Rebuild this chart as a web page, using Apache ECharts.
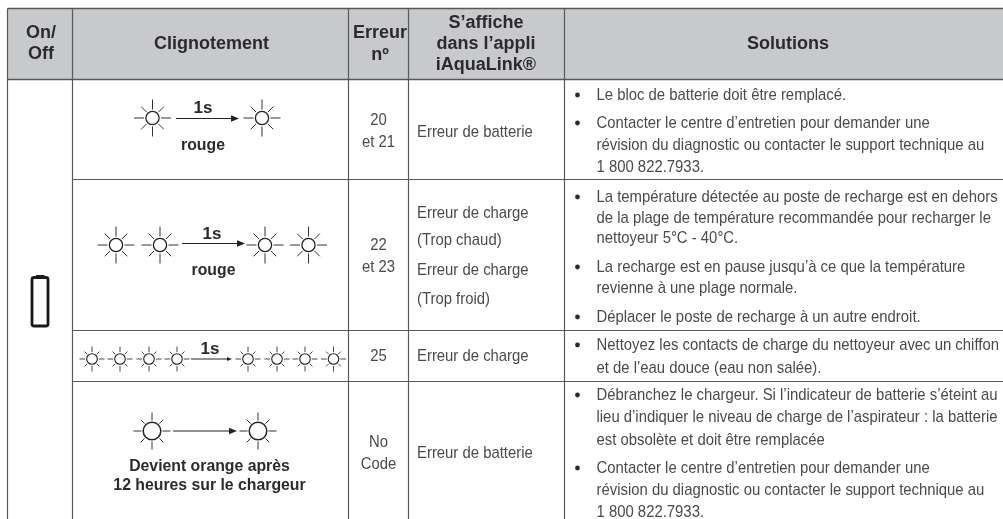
<!DOCTYPE html>
<html><head><meta charset="utf-8">
<style>html,body{margin:0;padding:0;background:#fff}#c{width:1003px;height:519px}</style>
<script src="https://cdn.jsdelivr.net/npm/echarts@6/dist/echarts.min.js"></script>
</head><body><div id="c"></div>
<script>
// ---- content ----
const headerOnOff = ["On/", "Off"];
const headerBlink = ["Clignotement"];
const headerCode = ["Erreur", "nº"];
const headerApp = ["S’affiche", "dans l’appli", "iAquaLink®"];
const headerSolutions = ["Solutions"];
const oneSecond = "1s";
const blinkCaptions = [["rouge"], ["rouge"], [], ["Devient orange après", "12 heures sur le chargeur"]];
const errorCodes = [["20", "et 21"], ["22", "et 23"], ["25"], ["No", "Code"]];
const appMessages = [
  ["Erreur de batterie"],
  ["Erreur de charge", "(Trop chaud)", "Erreur de charge", "(Trop froid)"],
  ["Erreur de charge"],
  ["Erreur de batterie"]
];
const solutions = [
  [["Le bloc de batterie doit être remplacé."],
   ["Contacter le centre d’entretien pour demander une", "révision du diagnostic ou contacter le support technique au", "1 800 822.7933."]],
  [["La température détectée au poste de recharge est en dehors", "de la plage de température recommandée pour recharger le", "nettoyeur 5°C - 40°C."],
   ["La recharge est en pause jusqu’à ce que la température", "revienne à une plage normale."],
   ["Déplacer le poste de recharge à un autre endroit."]],
  [["Nettoyez les contacts de charge du nettoyeur avec un chiffon", "et de l’eau douce (eau non salée)."]],
  [["Débranchez le chargeur. Si l’indicateur de batterie s’éteint au", "lieu d’indiquer le niveau de charge de l’aspirateur : la batterie", "est obsolète et doit être remplacée"],
   ["Contacter le centre d’entretien pour demander une", "révision du diagnostic ou contacter le support technique au", "1 800 822.7933."]]
];

// ---- layout ----
const colX = [7.5, 72.5, 348.5, 408.5, 564.5];
const rowY = [79.5, 179.5, 330.5, 381.5];
const topY = 8.5, bottomY = 519, rightX = 1003;
const lineColor = '#58585a', headFill = '#c8c9cb', ink = '#4a4a4c', headInk = '#2b2b2d';
const headFont = 'bold 18px "Liberation Sans", Arial, sans-serif';
const oneSFont = 'bold 17px "Liberation Sans", Arial, sans-serif';
const capFont = 'bold 15.8px "Liberation Sans", Arial, sans-serif';
const bodyFont = '17px "Liberation Sans", sans-serif';
const bodyScale = 0.875;

const g = [];
function T(x, y, text, font, fill, align, sx) {
  g.push({type:'text', x, y, scaleX:sx||1, silent:true, style:{text, font, fill, align:align||'center', verticalAlign:'middle'}});
}
function L(x1, y1, x2, y2, w, c) {
  g.push({type:'line', silent:true, shape:{x1,y1,x2,y2}, style:{stroke:c||lineColor, lineWidth:w||1}});
}
function sun(cx, cy, r, r0, r1, diag, w, rw) {
  g.push({type:'circle', silent:true, shape:{cx,cy,r}, style:{fill:'#fff', stroke:'#222', lineWidth:w}});
  for (let i = 0; i < 8; i++) {
    const a = i * Math.PI / 4, ro = i % 2 ? diag : r1, c = Math.cos(a), s = Math.sin(a);
    L(cx + r0*c, cy + r0*s, cx + ro*c, cy + ro*s, rw, '#333');
  }
}
function arrow(x1, x2, y, head) {
  L(x1, y, x2 - head, y, 1, '#222');
  g.push({type:'polygon', silent:true, shape:{points:[[x2-head, y-head*0.42],[x2, y],[x2-head, y+head*0.42]]}, style:{fill:'#222'}});
}

// header band
g.push({type:'rect', silent:true, shape:{x:colX[0], y:topY, width:rightX-colX[0], height:rowY[0]-topY}, style:{fill:headFill}});
headerOnOff.forEach((t,i)=>T(41, 33+i*21, t, headFont, headInk));
T(211.5, 44.5, headerBlink[0], headFont, headInk);
headerCode.forEach((t,i)=>T(380, 33.5+i*21.5, t, headFont, headInk));
headerApp.forEach((t,i)=>T(486, 23+i*21, t, headFont, headInk));
T(788, 44.5, headerSolutions[0], headFont, headInk);

// rules
L(colX[0], topY, rightX, topY, 1.3);
rowY.forEach((y,i)=>L(i===0?colX[0]:colX[1], y, rightX, y, i===0?1.3:1.1));
colX.forEach(x=>L(x, topY, x, bottomY, 1.2));

// blink pictograms
[152.5, 262].forEach(x=>sun(x, 118, 6.6, 8.5, 18.5, 16, 1.3, 1));
arrow(176, 239, 118.5, 8);
T(203, 108, oneSecond, oneSFont, headInk);
T(203, 146, blinkCaptions[0][0], capFont, headInk);

[116, 160, 265, 308.5].forEach(x=>sun(x, 245, 6.6, 8.5, 18.5, 16, 1.3, 1));
arrow(182, 245, 243.5, 8);
T(212, 234, oneSecond, oneSFont, headInk);
T(213.5, 271, blinkCaptions[1][0], capFont, headInk);

[92, 120, 149, 177, 248, 277, 305, 333.5].forEach(x=>sun(x, 359, 5.3, 6.8, 12.5, 10.5, 1.1, 0.9));
arrow(191, 232, 359, 5);
T(210, 349, oneSecond, oneSFont, headInk);

[152, 258].forEach(x=>sun(x, 431, 8.8, 10.5, 18.5, 16, 1.5, 1));
arrow(173, 237, 431, 8);
blinkCaptions[3].forEach((t,i)=>T(209.5, 467+i*19, t, capFont, headInk));

// battery icon
g.push({type:'rect', silent:true, shape:{x:32, y:277.5, width:16, height:48.5, r:2}, style:{fill:'#fff', stroke:'#1a1a1a', lineWidth:2.8}});
g.push({type:'rect', silent:true, shape:{x:36, y:275, width:8.5, height:2}, style:{fill:'#1a1a1a'}});

// error codes
const codeY = [[120,142],[245,267],[356],[442,464]];
errorCodes.forEach((r,i)=>r.forEach((t,j)=>T(378.5, codeY[i][j], t, bodyFont, ink, 'center', bodyScale)));

// app messages
const appY = [[132],[213,240,270,299],[356],[453]];
appMessages.forEach((r,i)=>r.forEach((t,j)=>T(417, appY[i][j], t, bodyFont, ink, 'left', bodyScale)));

// solutions
const solY = [
  [[95],[123,145,167]],
  [[197,218,238],[267,288],[317]],
  [[345,368]],
  [[395,417,440],[468,490,512]]
];
solutions.forEach((row,i)=>row.forEach((item,j)=>{
  g.push({type:'circle', silent:true, shape:{cx:577.5, cy:solY[i][j][0], r:2.4}, style:{fill:'#2b2b2d'}});
  item.forEach((t,k)=>T(596.5, solY[i][j][k], t, bodyFont, ink, 'left', bodyScale));
}));

const chart = echarts.init(document.getElementById('c'), null, {renderer:'canvas'});
chart.setOption({animation:false, backgroundColor:'#fff', graphic:{elements:g}});
</script></body></html>
